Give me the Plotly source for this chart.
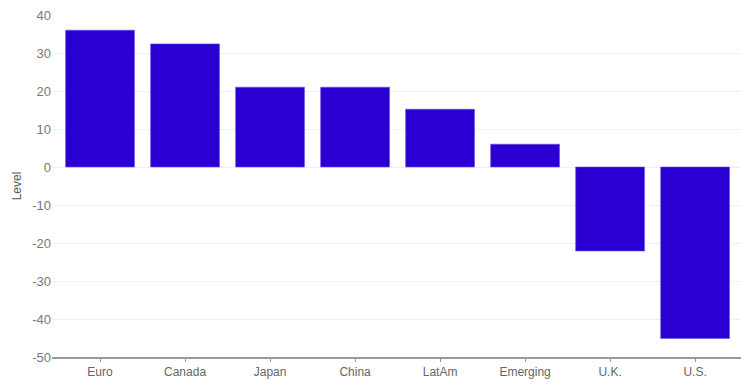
import plotly.graph_objects as go

categories = ["Euro", "Canada", "Japan", "China", "LatAm", "Emerging", "U.K.", "U.S."]
levels = [36, 32.4, 21, 21, 15.2, 6, -22.1, -45.1]
y_ticks = [-50, -40, -30, -20, -10, 0, 10, 20, 30, 40]
y_tick_labels = ["-50", "-40", "-30", "-20", "-10", "0", "10", "20", "30", "40"]

fig = go.Figure(go.Bar(
    x=list(range(len(categories))), y=levels,
    width=0.81,
    marker=dict(color="#2A00D2", line=dict(color="#6A4BE0", width=0.6)),
))

fig.update_layout(
    width=741, height=380,
    margin=dict(l=52, r=0, t=15, b=23, autoexpand=False),
    paper_bgcolor="white", plot_bgcolor="white",
    showlegend=False,
    font=dict(family="Liberation Sans, Arial, sans-serif", size=12, color="#777"),
    xaxis=dict(
        range=[-0.565, 7.54], automargin=False,
        tickmode="array", tickvals=list(range(len(categories))), ticktext=categories,
        showgrid=False, zeroline=False,
        showline=True, linecolor="#999", linewidth=1.5,
        ticks="outside", ticklen=3, tickcolor="#999",
        ticklabelstandoff=0,
        tickfont=dict(size=12, color="#666"),
    ),
    yaxis=dict(
        range=[-50, 40], automargin=False,
        tickmode="array", tickvals=y_ticks, ticktext=y_tick_labels,
        showgrid=True, gridcolor="#efefef", gridwidth=1,
        zeroline=True, zerolinecolor="#efefef", zerolinewidth=1,
        showline=False,
        tickfont=dict(size=13, color="#777"),
        title=dict(text="Level", font=dict(size=12, color="#555"), standoff=8),
    ),
)

fig.write_html("out.html")
